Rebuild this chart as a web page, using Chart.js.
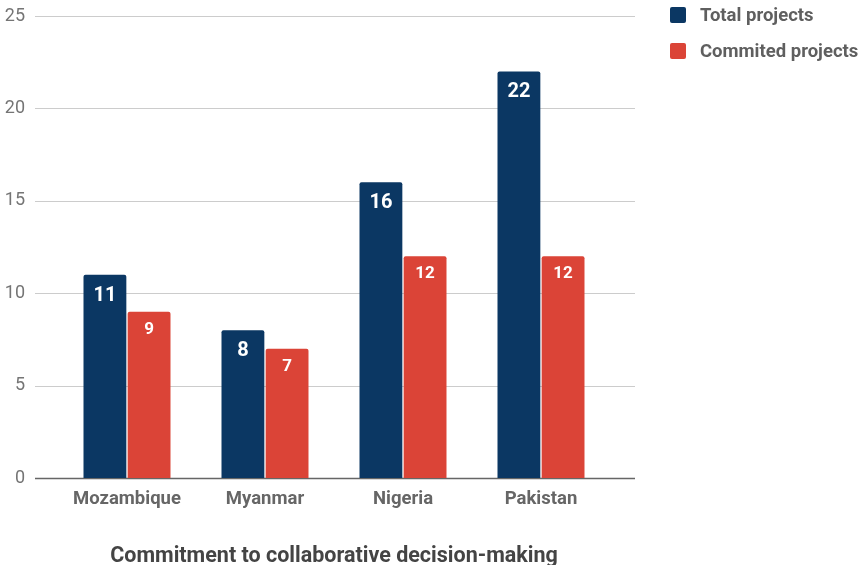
<!DOCTYPE html>
<html lang="en">
<head>
    <meta charset="UTF-8">
    <title>Commitment to collaborative decision-making</title>
    <script src="https://cdn.jsdelivr.net/npm/chart.js@4.4.0/dist/chart.umd.min.js"></script>
    <style>
        body {
            margin: 0;
            background: #fff;
            font-family: Roboto, sans-serif;
        }
        .wrap {
            position: relative;
            width: 858px;
            height: 565px;
        }
        .legend {
            position: absolute;
            left: 670px;
            top: 7px;
        }
        .legend-item {
            display: flex;
            align-items: center;
            height: 16px;
            margin-bottom: 20px;
            font-size: 18.5px;
            font-weight: bold;
            color: #5f5f5f;
            white-space: nowrap;
        }
        .swatch {
            width: 16px;
            height: 16px;
            border-radius: 2px;
            margin-right: 14px;
        }
    </style>
</head>
<body>
    <div class="wrap">
        <canvas id="chart" width="858" height="565"></canvas>
        <div class="legend" id="legend"></div>
    </div>

    <script>
        const countries = ['Mozambique', 'Myanmar', 'Nigeria', 'Pakistan'];
        const totalProjects = [11, 8, 16, 22];
        const committedProjects = [9, 7, 12, 12];
        const yTicks = [0, 5, 10, 15, 20, 25];

        const seriesNames = ['Total projects', 'Commited projects'];
        const seriesColors = ['#0b3763', '#db4437'];
        const labelSizes = [20, 17];
        const labelOffsets = [21, 18];

        // legend
        const legendEl = document.getElementById('legend');
        seriesNames.forEach((name, i) => {
            const item = document.createElement('div');
            item.className = 'legend-item';
            item.innerHTML = '<span class="swatch" style="background:' + seriesColors[i] + '"></span>' + name;
            legendEl.appendChild(item);
        });

        // gridlines wider than the category area
        const gridPlugin = {
            id: 'gridLines',
            beforeDatasetsDraw(chart) {
                const ctx = chart.ctx;
                const y = chart.scales.y;
                ctx.save();
                yTicks.forEach(v => {
                    const py = Math.round(y.getPixelForValue(v)) + 0.5;
                    ctx.beginPath();
                    ctx.moveTo(35, py);
                    ctx.lineTo(635, py);
                    if (v === 0) {
                        ctx.strokeStyle = '#666';
                        ctx.lineWidth = 1.5;
                    } else {
                        ctx.strokeStyle = '#cccccc';
                        ctx.lineWidth = 1;
                    }
                    ctx.stroke();
                });
                ctx.restore();
            }
        };

        // value labels inside bar tops
        const valuePlugin = {
            id: 'valueLabels',
            afterDatasetsDraw(chart) {
                const ctx = chart.ctx;
                ctx.save();
                ctx.fillStyle = '#fff';
                ctx.textAlign = 'center';
                ctx.textBaseline = 'middle';
                chart.data.datasets.forEach((ds, i) => {
                    ctx.font = 'bold ' + labelSizes[i] + 'px Roboto';
                    chart.getDatasetMeta(i).data.forEach((bar, j) => {
                        ctx.fillText(ds.data[j], bar.x, bar.y + labelOffsets[i]);
                    });
                });
                ctx.restore();
            }
        };

        new Chart(document.getElementById('chart'), {
            type: 'bar',
            data: {
                labels: countries,
                datasets: [{
                    label: seriesNames[0],
                    data: totalProjects,
                    backgroundColor: seriesColors[0],
                    borderRadius: { topLeft: 2, topRight: 2 },
                    borderSkipped: 'bottom'
                }, {
                    label: seriesNames[1],
                    data: committedProjects,
                    backgroundColor: seriesColors[1],
                    borderRadius: { topLeft: 2, topRight: 2 },
                    borderSkipped: 'bottom'
                }]
            },
            options: {
                responsive: false,
                animation: false,
                layout: {
                    padding: { top: 16, right: 248, bottom: 0, left: 0 }
                },
                categoryPercentage: 0.64,
                barPercentage: 0.97,
                plugins: {
                    legend: { display: false },
                    tooltip: { enabled: false }
                },
                scales: {
                    x: {
                        grid: { display: false, drawTicks: false },
                        border: { display: false },
                        ticks: {
                            color: '#666',
                            font: { family: 'Roboto', size: 18.5, weight: 'bold' },
                            padding: 10
                        },
                        title: {
                            display: true,
                            text: 'Commitment to collaborative decision-making',
                            color: '#444',
                            font: { family: 'Roboto', size: 21.5, weight: 'bold' },
                            padding: { top: 0, bottom: -5 }
                        },
                        afterFit(scale) { scale.height = 87; }
                    },
                    y: {
                        min: 0,
                        max: 25,
                        grid: { display: false, drawTicks: false },
                        border: { display: false },
                        ticks: {
                            stepSize: 5,
                            color: '#757575',
                            font: { family: 'Roboto', size: 18 },
                            padding: 33
                        },
                        afterFit(scale) {
                            scale.width = 58;
                            scale.paddingTop = 0;
                            scale.paddingBottom = 0;
                        }
                    }
                }
            },
            plugins: [gridPlugin, valuePlugin]
        });
    </script>
</body>
</html>
